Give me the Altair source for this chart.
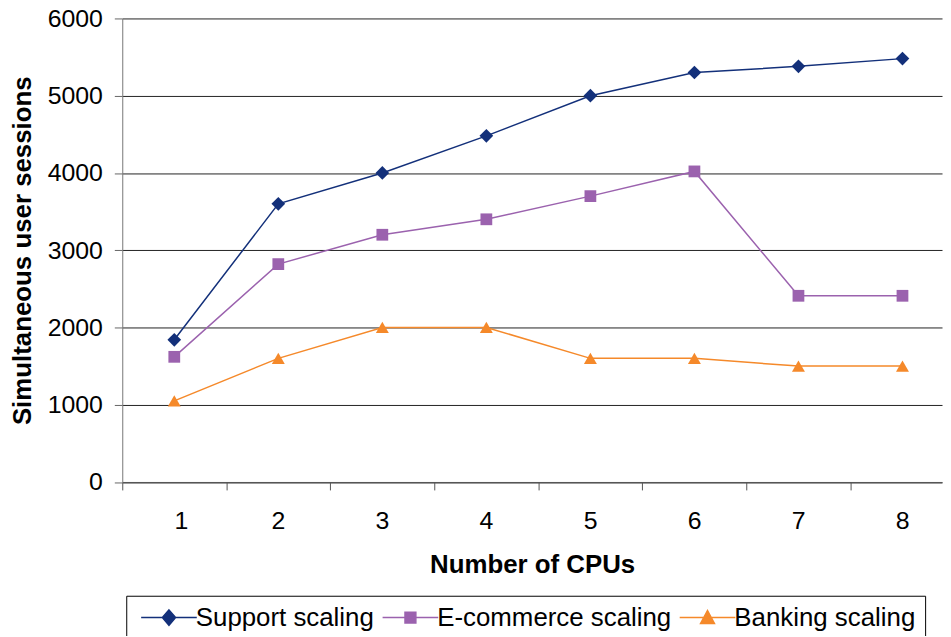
import altair as alt
import pandas as pd

cpus = [1, 2, 3, 4, 5, 6, 7, 8]
series_names = ["Support scaling", "E-commerce scaling", "Banking scaling"]
support = [1840, 3600, 4000, 4480, 5000, 5300, 5380, 5480]
ecommerce = [1620, 2820, 3200, 3400, 3700, 4020, 2410, 2410]
banking = [1050, 1600, 2000, 2000, 1600, 1600, 1500, 1500]
y_ticks = [0, 1000, 2000, 3000, 4000, 5000, 6000]
x_boundaries = [0.5, 1.5, 2.5, 3.5, 4.5, 5.5, 6.5, 7.5]
colors = ["#13307A", "#9B62AE", "#F5892A"]
shapes = ["diamond", "square", "triangle-up"]
marker_sizes = [190, 140, 170]
legend_shapes = [
    "M-4,0L4,0M0,-1.1L0.95,0L0,1.1L-0.95,0Z",
    "M-4,0L4,0M-0.78,-0.78L0.78,-0.78L0.78,0.78L-0.78,0.78Z",
    "M-4,0L4,0M0,-1L1,0.85L-1,0.85Z",
]

rows = []
for name, vals in zip(series_names, [support, ecommerce, banking]):
    for c, v in zip(cpus, vals):
        rows.append({"cpus": c, "sessions": v, "series": name})
df = pd.DataFrame(rows)
# legend-only rows sit outside the visible domain and are clipped away
legend_df = pd.DataFrame({"series": series_names, "cpus": [1, 1, 1], "sessions": [-5000, -5000, -5000]})

FONT = "Liberation Sans"

x_enc = alt.X(
    "cpus:Q",
    scale=alt.Scale(domain=[0.5, 8.38], nice=False, zero=False),
    axis=alt.Axis(
        values=x_boundaries,
        labelExpr="format(datum.value + 0.5, 'd')",
        labelOffset=52,
        grid=False,
        tickSize=8,
        tickColor="#555555",
        domainColor="#555555",
        labelFontSize=25,
        labelFont=FONT,
        labelColor="black",
        labelPadding=19,
        title="Number of CPUs",
        titleFontSize=26,
        titleFont=FONT,
        titleFontWeight="bold",
        titleColor="black",
        titlePadding=18,
    ),
)
y_enc = alt.Y(
    "sessions:Q",
    scale=alt.Scale(domain=[0, 6000], nice=False),
    axis=alt.Axis(
        values=y_ticks,
        format="d",
        grid=True,
        gridColor="#222222",
        gridWidth=1,
        tickSize=8,
        tickColor="#666666",
        domainColor="#777777",
        labelFontSize=25,
        labelFont=FONT,
        labelColor="black",
        labelPadding=12,
        title="Simultaneous user sessions",
        titleFontSize=26,
        titleFont=FONT,
        titleFontWeight="bold",
        titleColor="black",
        titlePadding=12,
    ),
)

color_scale = alt.Scale(domain=series_names, range=colors)
legend_shape_scale = alt.Scale(domain=series_names, range=legend_shapes)

legend = alt.Legend(
    title=None,
    orient="none",
    legendX=4,
    legendY=581,
    direction="horizontal",
    strokeColor="black",
    fillColor="white",
    padding=9,
    symbolSize=196,
    symbolOffset=21,
    labelOffset=14,
    columnPadding=2,
    labelFontSize=26,
    labelFont=FONT,
    labelColor="black",
    labelLimit=400,
    symbolStrokeWidth=1.5,
    symbolOpacity=1,
)

layers = [
    alt.Chart(df).mark_line(strokeWidth=1.5).encode(
        x=x_enc,
        y=y_enc,
        color=alt.Color("series:N", scale=color_scale, legend=None),
        detail="series:N",
    )
]
for name, shp, sz in zip(series_names, shapes, marker_sizes):
    layers.append(
        alt.Chart(df)
        .transform_filter(alt.datum.series == name)
        .mark_point(filled=True, opacity=1, size=sz, shape=shp)
        .encode(
            x=x_enc,
            y=y_enc,
            color=alt.Color("series:N", scale=color_scale, legend=None),
        )
    )

layers.append(
    alt.Chart(legend_df)
    .mark_point(filled=True, opacity=1, size=196, strokeWidth=1.5, clip=True)
    .encode(
        x=x_enc,
        y=y_enc,
        fill=alt.Fill("series:N", scale=color_scale, legend=legend),
        stroke=alt.Stroke("series:N", scale=color_scale, legend=legend),
        shape=alt.Shape("series:N", scale=legend_shape_scale, legend=legend),
    )
)

chart = (
    alt.layer(*layers)
    .resolve_scale(fill="independent", stroke="independent", shape="independent")
    .properties(
        width=825,
        height=466.5,
        padding={"left": 115, "top": 8.5, "right": 1, "bottom": 153},
        autosize=alt.AutoSizeParams(type="none"),
        background="white",
    )
    .configure_view(stroke=None)
)

chart.save("out.html", embed_options={"renderer": "svg", "actions": False})
